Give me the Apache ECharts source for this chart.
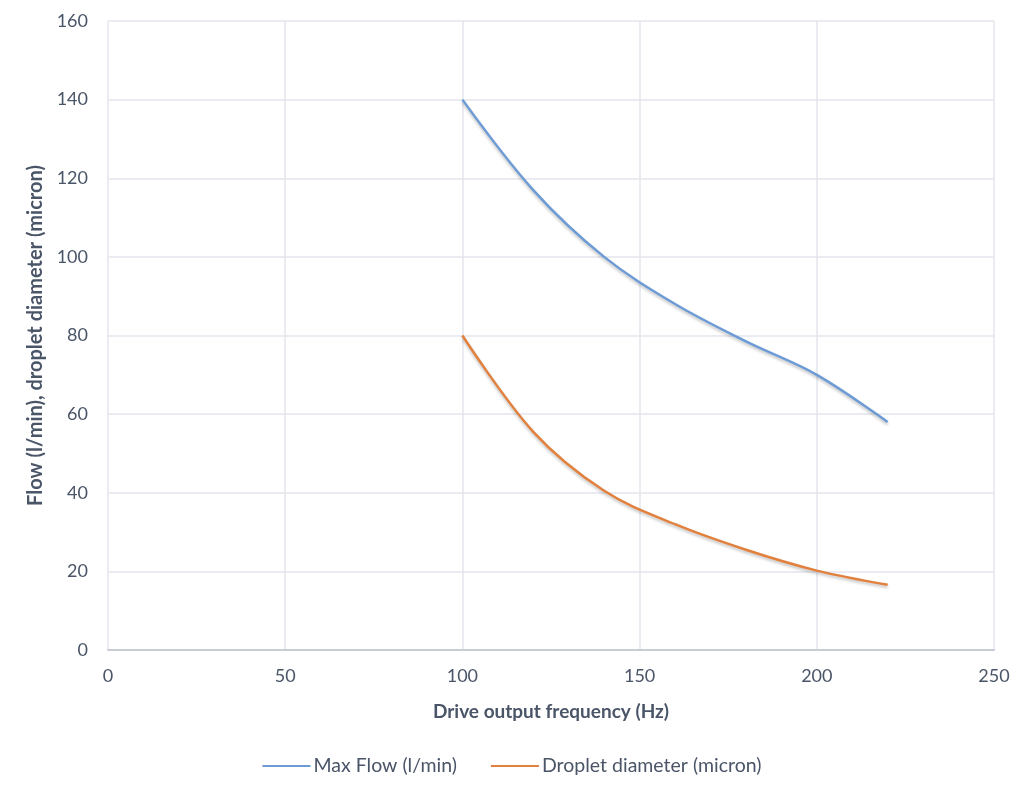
<!DOCTYPE html>
<html>
<head>
    <meta charset="utf-8">
    <title>ECharts</title>
    <script src="https://cdn.jsdelivr.net/npm/echarts@6/dist/echarts.min.js"></script>
    <style>
        html, body { margin: 0; padding: 0; background: #fff; }
    </style>
</head>
<body>
    <div id="main" style="width: 1024px;height:793px;"></div>
    <script type="text/javascript">
        // frequency points (Hz)
        var freq = [100, 120, 140, 160, 180, 200, 220];
        // Max Flow (l/min)
        var maxFlow = [140, 117, 100, 88, 78.5, 70, 58];
        // Droplet diameter (micron)
        var droplet = [80, 55.5, 40.5, 32, 25.5, 20.2, 16.6];
        var xTicks = [0, 50, 100, 150, 200, 250];
        var yTicks = [0, 20, 40, 60, 80, 100, 120, 140, 160];

        var textColor = '#4a5568';
        var font = 'Lato';

        function pairs(xs, ys) {
            return xs.map(function (x, i) { return [x, ys[i]]; });
        }

        var myChart = echarts.init(document.getElementById('main'));
        var option = {
            animation: false,
            textStyle: { fontFamily: font },
            grid: { left: 108, right: 30, top: 21, bottom: 143 },
            legend: {
                bottom: 12,
                left: 'center',
                itemWidth: 48,
                itemHeight: 2,
                itemGap: 34,
                icon: 'rect',
                textStyle: { color: textColor, fontSize: 19.5, fontFamily: font, padding: [0, 0, 0, -2] },
                data: ['Max Flow (l/min)', 'Droplet diameter (micron)']
            },
            xAxis: {
                type: 'value',
                min: xTicks[0],
                max: xTicks[xTicks.length - 1],
                interval: 50,
                name: 'Drive output frequency (Hz)',
                nameLocation: 'middle',
                nameGap: 52,
                nameTextStyle: { color: textColor, fontSize: 19, fontWeight: 'bold', fontFamily: font },
                axisLine: { lineStyle: { color: '#c8ccd4', width: 2 } },
                axisTick: { show: false },
                axisLabel: { color: textColor, fontSize: 18, margin: 17 },
                splitLine: { lineStyle: { color: '#e3e6ec', width: 1.5 } }
            },
            yAxis: {
                type: 'value',
                min: yTicks[0],
                max: yTicks[yTicks.length - 1],
                interval: 20,
                name: 'Flow (l/min), droplet diameter (micron)',
                nameLocation: 'middle',
                nameGap: 56,
                nameTextStyle: { color: textColor, fontSize: 20, fontWeight: 'bold', fontFamily: font },
                axisLine: { show: false },
                axisTick: { show: false },
                axisLabel: { color: textColor, fontSize: 18, margin: 20 },
                splitLine: { lineStyle: { color: '#e3e6ec', width: 1.5 } }
            },
            series: [{
                name: 'Max Flow (l/min)',
                type: 'line',
                smooth: 0.35,
                showSymbol: false,
                itemStyle: { color: '#6c9bd6' },
                lineStyle: {
                    color: '#6c9bd6', width: 2.5,
                    shadowColor: 'rgba(0,0,0,0.25)', shadowBlur: 3, shadowOffsetY: 2
                },
                data: pairs(freq, maxFlow)
            }, {
                name: 'Droplet diameter (micron)',
                type: 'line',
                smooth: 0.35,
                showSymbol: false,
                itemStyle: { color: '#e2803d' },
                lineStyle: {
                    color: '#e2803d', width: 2.5,
                    shadowColor: 'rgba(0,0,0,0.25)', shadowBlur: 3, shadowOffsetY: 2
                },
                data: pairs(freq, droplet)
            }]
        };
        myChart.setOption(option);
    </script>
</body>
</html>
